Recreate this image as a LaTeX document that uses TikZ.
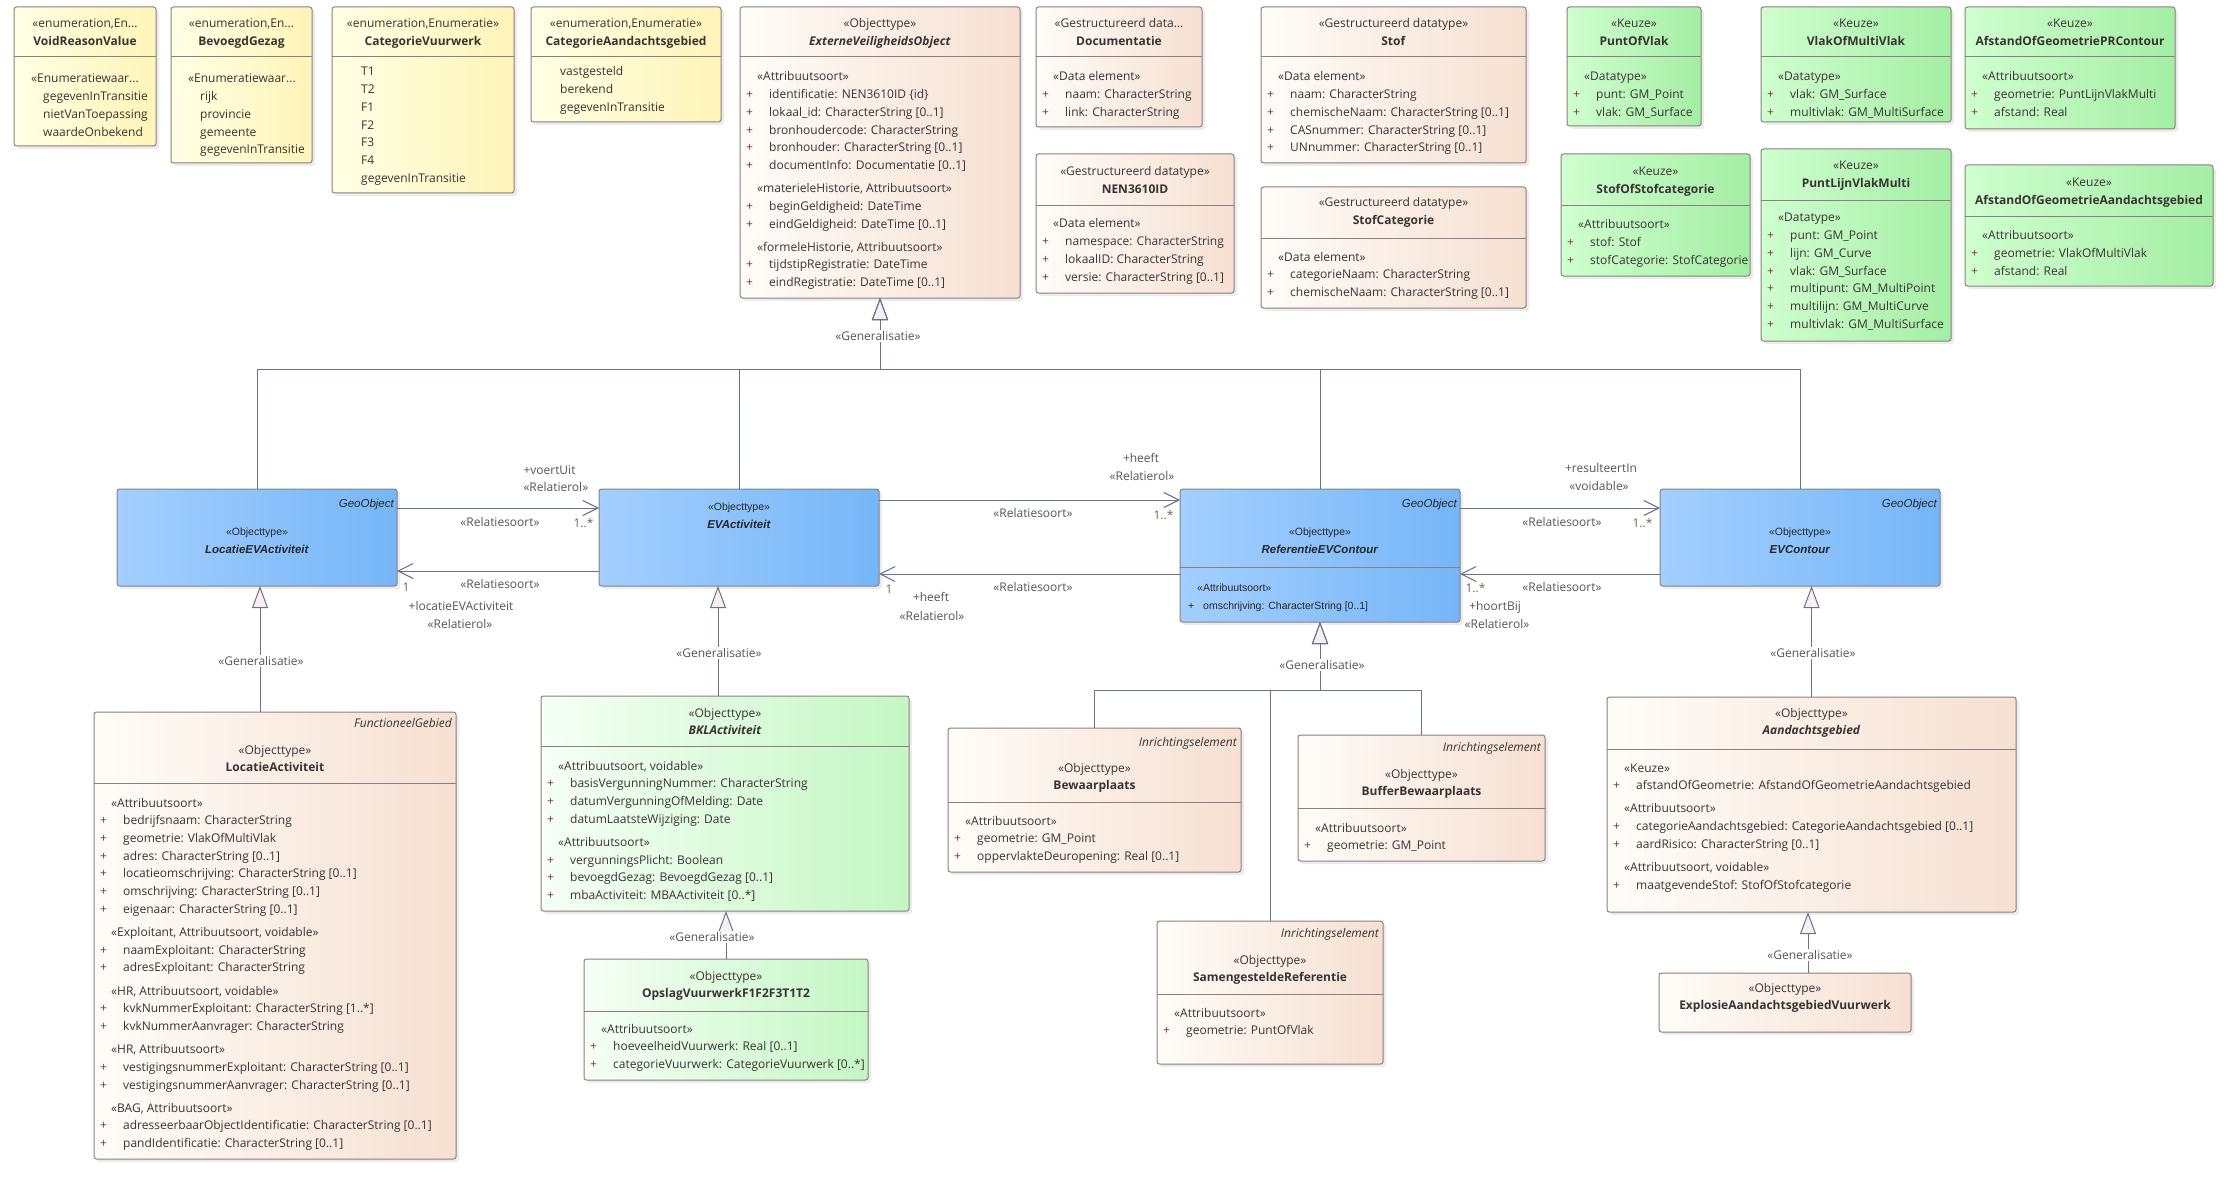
\documentclass[tikz,border=0pt]{standalone}
\usepackage{fontspec}
\usetikzlibrary{arrows.meta,shadows}
\newfontfamily\umlfont{Open Sans}
\newfontfamily\geofont{Liberation Sans}
\definecolor{yelL}{HTML}{FFFFE4}
\definecolor{yelR}{HTML}{FFF4B8}
\definecolor{peaL}{HTML}{FFFCF8}
\definecolor{peaR}{HTML}{F6E0D2}
\definecolor{grnL}{HTML}{CFFFCF}
\definecolor{grnR}{HTML}{A4EEA4}
\definecolor{lgrL}{HTML}{F6FFF6}
\definecolor{lgrR}{HTML}{C4F7C4}
\definecolor{bluL}{HTML}{A3CFFF}
\definecolor{bluR}{HTML}{76B6F8}
\definecolor{edgec}{HTML}{8A8080}
\definecolor{linkc}{HTML}{67728C}
\definecolor{txtc}{HTML}{3A3232}
\definecolor{plusc}{HTML}{862A44}
\definecolor{lblc}{HTML}{555555}
\definecolor{multc}{HTML}{7C6248}
\definecolor{genfill}{HTML}{F8F0EE}

\tikzset{
  cls/.style={draw=edgec, line width=1pt, rounded corners=2.5pt, inner sep=0pt, outer sep=0pt,
    anchor=north west, drop shadow={shadow xshift=3pt, shadow yshift=-3pt, fill=black!14}},
  enum/.style={cls, left color=yelL, right color=yelR},
  dtype/.style={cls, left color=peaL, right color=peaR},
  keuze/.style={cls, left color=grnL, right color=grnR},
  okind/.style={cls, left color=lgrL, right color=lgrR},
  geo/.style={cls, left color=bluL, right color=bluR},
  sep/.style={draw=edgec, line width=1pt},
  txt/.style={inner sep=0pt, text=txtc, font={\umlfont\fontsize{12}{17.7}\selectfont}},
  gtxt/.style={inner sep=0pt, text=black!85, font={\geofont\fontsize{10.5}{18}\selectfont}},
  tag/.style={inner sep=0pt, text=txtc, font={\umlfont\itshape\fontsize{12}{14}\selectfont}, anchor=base east, xshift=-4pt},
  gtag/.style={tag, text=black!85, font={\geofont\itshape\fontsize{11.5}{14}\selectfont}, xshift=1pt},
  lbl/.style={inner sep=0pt, text=lblc, font={\umlfont\fontsize{12}{14}\selectfont}, anchor=base},
  mult/.style={lbl, text=multc},
  glbl/.style={lbl, fill=white, inner sep=1.5pt, anchor=center},
  gen/.style={draw=linkc, line width=1pt, -{Triangle[length=22pt, width=16pt, fill=genfill, line width=1pt]}},
  rel/.style={draw=linkc, line width=1pt, -{Straight Barb[length=15pt, width=15pt, line width=1.1pt]}},
}

% box, separator, header and compartment helpers
\newcommand{\umlclass}[6]{\node[#2, minimum width={(#5-#3)*1pt}, minimum height={(#6-#4)*1pt}] (#1) at (#3,#4) {};}
\newcommand{\umlsep}[2]{\draw[sep] (#1.west |- 0,#2) -- (#1.east |- 0,#2);}
\newcommand{\umlhead}[4]{\node[txt, anchor=base] (#1-h) at (#1.north |- 0,#2) {\begin{tabular}[t]{@{}c@{}}#3\\#4\end{tabular}};}
\newcommand{\umlbody}[3]{\node[txt, anchor=base west, xshift=6pt] (#1-b) at (#1.west |- 0,#2) {\begin{tabular}[t]{@{}l@{}}#3\end{tabular}};}
\newcommand{\geohead}[3]{\node[gtxt, anchor=base] (#1-h) at (#1.north |- 0,#2) {\begin{tabular}[t]{@{}c@{}}«Objecttype»\\\fontsize{11.5}{18}\selectfont\textbf{\itshape #3}\end{tabular}};}
\newcommand{\ua}[1]{\makebox[23pt][l]{\textcolor{plusc}{+}}#1}
\newcommand{\us}[1]{\hspace*{11pt}#1}
\newcommand{\ue}[1]{\hspace*{23pt}#1}

\begin{document}
\begin{tikzpicture}[x=1pt, y=-1pt]
\useasboundingbox (0,0) rectangle (2235,1177);
\fill[white] (0,0) rectangle (2235,1177);

% enumerations
\umlclass{vrv}{enum}{14}{7}{156}{146}
\umlsep{vrv}{57}
\umlhead{vrv}{28}{«enumeration,En...}{\textbf{VoidReasonValue}}
\umlbody{vrv}{83}{\us{«Enumeratiewaar...}\\ \ue{gegevenInTransitie}\\ \ue{nietVanToepassing}\\ \ue{waardeOnbekend}}

\umlclass{bg}{enum}{171}{7}{312}{163}
\umlsep{bg}{57}
\umlhead{bg}{28}{«enumeration,En...}{\textbf{BevoegdGezag}}
\umlbody{bg}{83}{\us{«Enumeratiewaar...}\\ \ue{rijk}\\ \ue{provincie}\\ \ue{gemeente}\\ \ue{gegevenInTransitie}}

\umlclass{cv}{enum}{332}{7}{514}{193}
\umlsep{cv}{57}
\umlhead{cv}{28}{«enumeration,Enumeratie»}{\textbf{CategorieVuurwerk}}
\umlbody{cv}{76}{\ue{T1}\\ \ue{T2}\\ \ue{F1}\\ \ue{F2}\\ \ue{F3}\\ \ue{F4}\\ \ue{gegevenInTransitie}}

\umlclass{cag}{enum}{531}{7}{721}{122}
\umlsep{cag}{57}
\umlhead{cag}{28}{«enumeration,Enumeratie»}{\textbf{CategorieAandachtsgebied}}
\umlbody{cag}{76}{\ue{vastgesteld}\\ \ue{berekend}\\ \ue{gegevenInTransitie}}

% abstract root
\umlclass{evo}{dtype}{740}{7}{1020}{298}
\umlsep{evo}{57}
\umlhead{evo}{28}{«Objecttype»}{\textbf{\itshape ExterneVeiligheidsObject}}
\umlbody{evo}{81}{\us{«Attribuutsoort»}\\ \ua{identificatie: NEN3610ID \{id\}}\\ \ua{lokaal\_id: CharacterString [0..1]}\\
  \ua{bronhoudercode: CharacterString}\\ \ua{bronhouder: CharacterString [0..1]}\\ \ua{documentInfo: Documentatie [0..1]}\\[5.5pt]
  \us{«materieleHistorie, Attribuutsoort»}\\ \ua{beginGeldigheid: DateTime}\\ \ua{eindGeldigheid: DateTime [0..1]}\\[5.5pt]
  \us{«formeleHistorie, Attribuutsoort»}\\ \ua{tijdstipRegistratie: DateTime}\\ \ua{eindRegistratie: DateTime [0..1]}}

% structured datatypes
\umlclass{doc}{dtype}{1036}{7}{1202}{127}
\umlsep{doc}{57}
\umlhead{doc}{28}{«Gestructureerd data...}{\textbf{Documentatie}}
\umlbody{doc}{81}{\us{«Data element»}\\ \ua{naam: CharacterString}\\ \ua{link: CharacterString}}

\umlclass{nen}{dtype}{1036}{154}{1234}{293}
\umlsep{nen}{206}
\umlhead{nen}{176}{«Gestructureerd datatype»}{\textbf{NEN3610ID}}
\umlbody{nen}{228}{\us{«Data element»}\\ \ua{namespace: CharacterString}\\ \ua{lokaalID: CharacterString}\\ \ua{versie: CharacterString [0..1]}}

\umlclass{stof}{dtype}{1261}{7}{1526}{163}
\umlsep{stof}{57}
\umlhead{stof}{28}{«Gestructureerd datatype»}{\textbf{Stof}}
\umlbody{stof}{81}{\us{«Data element»}\\ \ua{naam: CharacterString}\\ \ua{chemischeNaam: CharacterString [0..1]}\\
  \ua{CASnummer: CharacterString [0..1]}\\ \ua{UNnummer: CharacterString [0..1]}}

\umlclass{stcat}{dtype}{1261}{187}{1526}{308}
\umlsep{stcat}{238}
\umlhead{stcat}{207}{«Gestructureerd datatype»}{\textbf{StofCategorie}}
\umlbody{stcat}{261}{\us{«Data element»}\\ \ua{categorieNaam: CharacterString}\\ \ua{chemischeNaam: CharacterString [0..1]}}

% keuze types
\umlclass{pov}{keuze}{1567}{7}{1701}{126}
\umlsep{pov}{57}
\umlhead{pov}{28}{«Keuze»}{\textbf{PuntOfVlak}}
\umlbody{pov}{81}{\us{«Datatype»}\\ \ua{punt: GM\_Point}\\ \ua{vlak: GM\_Surface}}

\umlclass{vomv}{keuze}{1761}{7}{1951}{122}
\umlsep{vomv}{57}
\umlhead{vomv}{28}{«Keuze»}{\textbf{VlakOfMultiVlak}}
\umlbody{vomv}{81}{\us{«Datatype»}\\ \ua{vlak: GM\_Surface}\\ \ua{multivlak: GM\_MultiSurface}}

\umlclass{aogpr}{keuze}{1965}{7}{2175}{129}
\umlsep{aogpr}{57}
\umlhead{aogpr}{28}{«Keuze»}{\textbf{AfstandOfGeometriePRContour}}
\umlbody{aogpr}{81}{\us{«Attribuutsoort»}\\ \ua{geometrie: PuntLijnVlakMulti}\\ \ua{afstand: Real}}

\umlclass{soscat}{keuze}{1561}{154}{1750}{276}
\umlsep{soscat}{206}
\umlhead{soscat}{176}{«Keuze»}{\textbf{StofOfStofcategorie}}
\umlbody{soscat}{229}{\us{«Attribuutsoort»}\\ \ua{stof: Stof}\\ \ua{stofCategorie: StofCategorie}}

\umlclass{plvm}{keuze}{1761}{149}{1951}{341}
\umlsep{plvm}{201}
\umlhead{plvm}{170}{«Keuze»}{\textbf{PuntLijnVlakMulti}}
\umlbody{plvm}{222}{\us{«Datatype»}\\ \ua{punt: GM\_Point}\\ \ua{lijn: GM\_Curve}\\ \ua{vlak: GM\_Surface}\\
  \ua{multipunt: GM\_MultiPoint}\\ \ua{multilijn: GM\_MultiCurve}\\ \ua{multivlak: GM\_MultiSurface}}

\umlclass{aogag}{keuze}{1965}{165}{2213}{286}
\umlsep{aogag}{217}
\umlhead{aogag}{187}{«Keuze»}{\textbf{AfstandOfGeometrieAandachtsgebied}}
\umlbody{aogag}{240}{\us{«Attribuutsoort»}\\ \ua{geometrie: VlakOfMultiVlak}\\ \ua{afstand: Real}}

% geo objects
\umlclass{levact}{geo}{117}{489}{397}{586}
\node[gtag] (levact-t) at (levact.east |- 0,507) {GeoObject};
\geohead{levact}{535}{LocatieEVActiviteit}

\umlclass{evact}{geo}{599}{489}{879}{586}
\geohead{evact}{510}{EVActiviteit}

\umlclass{refev}{geo}{1180}{489}{1460}{622}
\node[gtag] (refev-t) at (refev.east |- 0,507) {GeoObject};
\geohead{refev}{535}{ReferentieEVContour}
\umlsep{refev}{567}
\node[gtxt, anchor=base west, xshift=8pt] (refev-b) at (refev.west |- 0,591)
  {\begin{tabular}[t]{@{}l@{}}\hspace*{9pt}«Attribuutsoort»\\ \makebox[15pt][l]{+}omschrijving: CharacterString [0..1]\end{tabular}};

\umlclass{evc}{geo}{1660}{489}{1940}{586}
\node[gtag] (evc-t) at (evc.east |- 0,507) {GeoObject};
\geohead{evc}{535}{EVContour}

% lower object types
\umlclass{lact}{dtype}{94}{712}{456}{1159}
\node[tag] (lact-t) at (lact.east |- 0,727) {FunctioneelGebied};
\umlsep{lact}{783}
\umlhead{lact}{754}{«Objecttype»}{\textbf{LocatieActiviteit}}
\umlbody{lact}{807}{\us{«Attribuutsoort»}\\ \ua{bedrijfsnaam: CharacterString}\\ \ua{geometrie: VlakOfMultiVlak}\\
  \ua{adres: CharacterString [0..1]}\\ \ua{locatieomschrijving: CharacterString [0..1]}\\ \ua{omschrijving: CharacterString [0..1]}\\
  \ua{eigenaar: CharacterString [0..1]}\\[5.5pt]
  \us{«Exploitant, Attribuutsoort, voidable»}\\ \ua{naamExploitant: CharacterString}\\ \ua{adresExploitant: CharacterString}\\[5.5pt]
  \us{«HR, Attribuutsoort, voidable»}\\ \ua{kvkNummerExploitant: CharacterString [1..*]}\\ \ua{kvkNummerAanvrager: CharacterString}\\[5.5pt]
  \us{«HR, Attribuutsoort»}\\ \ua{vestigingsnummerExploitant: CharacterString [0..1]}\\ \ua{vestigingsnummerAanvrager: CharacterString [0..1]}\\[5.5pt]
  \us{«BAG, Attribuutsoort»}\\ \ua{adresseerbaarObjectIdentificatie: CharacterString [0..1]}\\ \ua{pandIdentificatie: CharacterString [0..1]}}

\umlclass{bkl}{okind}{541}{696}{909}{911}
\umlsep{bkl}{746}
\umlhead{bkl}{717}{«Objecttype»}{\textbf{\itshape BKLActiviteit}}
\umlbody{bkl}{770}{\us{«Attribuutsoort, voidable»}\\ \ua{basisVergunningNummer: CharacterString}\\ \ua{datumVergunningOfMelding: Date}\\
  \ua{datumLaatsteWijziging: Date}\\[5.5pt]
  \us{«Attribuutsoort»}\\ \ua{vergunningsPlicht: Boolean}\\ \ua{bevoegdGezag: BevoegdGezag [0..1]}\\ \ua{mbaActiviteit: MBAActiviteit [0..*]}}

\umlclass{opslag}{okind}{584}{959}{868}{1080}
\umlsep{opslag}{1011}
\umlhead{opslag}{980}{«Objecttype»}{\textbf{OpslagVuurwerkF1F2F3T1T2}}
\umlbody{opslag}{1033}{\us{«Attribuutsoort»}\\ \ua{hoeveelheidVuurwerk: Real [0..1]}\\ \ua{categorieVuurwerk: CategorieVuurwerk [0..*]}}

\umlclass{bew}{dtype}{948}{728}{1241}{872}
\node[tag] (bew-t) at (bew.east |- 0,746) {Inrichtingselement};
\umlsep{bew}{802}
\umlhead{bew}{772}{«Objecttype»}{\textbf{Bewaarplaats}}
\umlbody{bew}{825}{\us{«Attribuutsoort»}\\ \ua{geometrie: GM\_Point}\\ \ua{oppervlakteDeuropening: Real [0..1]}}

\umlclass{bbew}{dtype}{1298}{735}{1545}{861}
\node[tag] (bbew-t) at (bbew.east |- 0,751) {Inrichtingselement};
\umlsep{bbew}{808}
\umlhead{bbew}{778}{«Objecttype»}{\textbf{BufferBewaarplaats}}
\umlbody{bbew}{832}{\us{«Attribuutsoort»}\\ \ua{geometrie: GM\_Point}}

\umlclass{samref}{dtype}{1157}{921}{1383}{1064}
\node[tag] (samref-t) at (samref.east |- 0,937) {Inrichtingselement};
\umlsep{samref}{994}
\umlhead{samref}{964}{«Objecttype»}{\textbf{SamengesteldeReferentie}}
\umlbody{samref}{1017}{\us{«Attribuutsoort»}\\ \ua{geometrie: PuntOfVlak}}

\umlclass{aand}{dtype}{1607}{697}{2016}{912}
\umlsep{aand}{749}
\umlhead{aand}{717}{«Objecttype»}{\textbf{\itshape Aandachtsgebied}}
\umlbody{aand}{772}{\us{«Keuze»}\\ \ua{afstandOfGeometrie: AfstandOfGeometrieAandachtsgebied}\\[5.5pt]
  \us{«Attribuutsoort»}\\ \ua{categorieAandachtsgebied: CategorieAandachtsgebied [0..1]}\\ \ua{aardRisico: CharacterString [0..1]}\\[5.5pt]
  \us{«Attribuutsoort, voidable»}\\ \ua{maatgevendeStof: StofOfStofcategorie}}

\umlclass{explo}{dtype}{1659}{973}{1911}{1032}
\umlhead{explo}{992}{«Objecttype»}{\textbf{ExplosieAandachtsgebiedVuurwerk}}

% generalisations
\coordinate (busT) at (0,369);
\coordinate (busR) at (0,690);
\coordinate (gA) at (260,0);
\coordinate (gB) at (718,0);
\coordinate (gC) at (1808,0);
\draw[gen] (levact.north) |- (busT -| evo.south) -- (evo.south);
\draw[gen] (evact.north) |- (busT -| evo.south) -- (evo.south);
\draw[gen] (refev.north) |- (busT -| evo.south) -- (evo.south);
\draw[gen] (evc.north) |- (busT -| evo.south) -- (evo.south);
\draw[gen] (lact.north -| gA) -- (levact.south -| gA);
\draw[gen] (bkl.north -| gB) -- (evact.south -| gB);
\draw[gen] (opslag.north) -- (opslag.north |- bkl.south);
\draw[gen] (bew.north) |- (busR -| refev.south) -- (refev.south);
\draw[gen] (samref.north) |- (busR -| refev.south) -- (refev.south);
\draw[gen] (bbew.north) |- (busR -| refev.south) -- (refev.south);
\draw[gen] (aand.north) -- (aand.north |- evc.south);
\draw[gen] (explo.north -| gC) -- (aand.south -| gC);
\node[glbl] (g-evo) at (878,336) {«Generalisatie»};
\node[glbl] (g-levact) at (261,661) {«Generalisatie»};
\node[glbl] (g-evact) at (719,653) {«Generalisatie»};
\node[glbl] (g-bkl) at (712,937) {«Generalisatie»};
\node[glbl] (g-refev) at (1322,665) {«Generalisatie»};
\node[glbl] (g-evc) at (1813,653) {«Generalisatie»};
\node[glbl] (g-aand) at (1810,955) {«Generalisatie»};

% relations
\draw[rel] (levact.east |- 0,508) -- (evact.west |- 0,508)
  node[lbl, anchor=base west] (a1-r) at (523,474) {+voertUit}
  node[lbl, anchor=base west] (a1-s) at (523,491) {«Relatierol»}
  node[lbl] (a1-t) at (500,526) {«Relatiesoort»}
  node[mult, anchor=base west] (a1-m) at (573,527) {1..*};
\draw[rel] (evact.west |- 0,571) -- (levact.east |- 0,571)
  node[mult, anchor=base west] (a2-m) at (402,591) {1}
  node[lbl] (a2-t) at (500,588) {«Relatiesoort»}
  node[lbl] (a2-r) at (461,610) {+locatieEVActiviteit}
  node[lbl] (a2-s) at (460,628) {«Relatierol»};
\draw[rel] (evact.east |- 0,500) -- (refev.west |- 0,500)
  node[lbl] (a3-r) at (1141,462) {+heeft}
  node[lbl] (a3-s) at (1142,480) {«Relatierol»}
  node[lbl] (a3-t) at (1033,517) {«Relatiesoort»}
  node[mult, anchor=base west] (a3-m) at (1153,519) {1..*};
\draw[rel] (refev.west |- 0,574) -- (evact.east |- 0,574)
  node[mult, anchor=base west] (a4-m) at (885,593) {1}
  node[lbl] (a4-r) at (931,601) {+heeft}
  node[lbl] (a4-s) at (932,620) {«Relatierol»}
  node[lbl] (a4-t) at (1033,591) {«Relatiesoort»};
\draw[rel] (refev.east |- 0,508) -- (evc.west |- 0,508)
  node[lbl] (a5-r) at (1601,472) {+resulteertIn}
  node[lbl] (a5-s) at (1599,490) {«voidable»}
  node[lbl] (a5-t) at (1562,526) {«Relatiesoort»}
  node[mult, anchor=base west] (a5-m) at (1632,527) {1..*};
\draw[rel] (evc.west |- 0,574) -- (refev.east |- 0,574)
  node[mult, anchor=base west] (a6-m) at (1465,592) {1..*}
  node[lbl] (a6-r) at (1495,610) {+hoortBij}
  node[lbl] (a6-s) at (1497,628) {«Relatierol»}
  node[lbl] (a6-t) at (1562,591) {«Relatiesoort»};
\end{tikzpicture}
\end{document}
